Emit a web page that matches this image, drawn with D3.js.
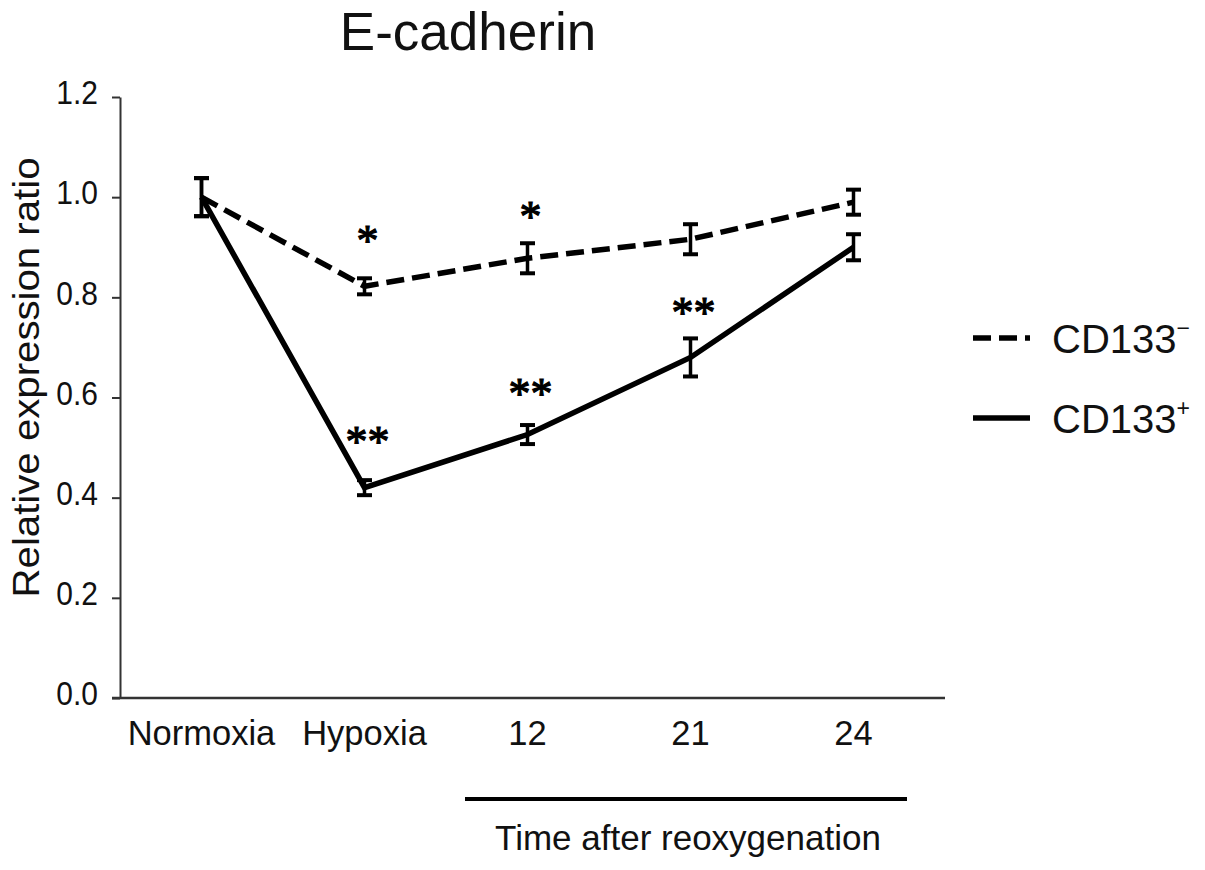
<!DOCTYPE html>
<html>
<head>
<meta charset="utf-8">
<script src="https://cdn.jsdelivr.net/npm/d3@7"></script>
<style>
  body { margin: 0; background: #fff; }
  svg { display: block; font-family: "Liberation Sans", Arial, sans-serif; }
</style>
</head>
<body>
<div id="chart"></div>
<script>
// values
const categories = ['Normoxia', 'Hypoxia', '12', '21', '24'];
const negMean = [1.0, 0.822, 0.878, 0.916, 0.99];   // CD133-
const negErr = [0.038, 0.016, 0.03, 0.03, 0.025];
const posMean = [1.0, 0.42, 0.526, 0.68, 0.9];      // CD133+
const posErr = [0.038, 0.015, 0.019, 0.038, 0.026];
const negStars = ['', '*', '*', '', ''];
const negStarLevel = [null, 0.924, 0.972, null, null];
const posStars = ['', '**', '**', '**', ''];
const posStarLevel = [null, 0.524, 0.618, 0.78, null];
const yTicks = [0, 0.2, 0.4, 0.6, 0.8, 1.0, 1.2];

const width = 1205, height = 870;

const svg = d3.select('#chart').append('svg')
  .attr('width', width)
  .attr('height', height);

// scales
const x = d3.scaleBand().domain(categories).range([120, 935]).padding(0);
const cx = d => x(d) + x.bandwidth() / 2;
const y = d3.scaleLinear().domain([0, 1.2]).range([698, 97]);

// title
svg.append('text')
  .attr('x', 468).attr('y', 50)
  .attr('text-anchor', 'middle')
  .attr('font-size', 53)
  .attr('fill', '#111')
  .text('E-cadherin');

// y axis
const yAxis = svg.append('g')
  .attr('transform', 'translate(120,0)')
  .call(d3.axisLeft(y).tickValues(yTicks).tickFormat(d3.format('.1f')).tickSize(8).tickSizeOuter(0).tickPadding(14));
yAxis.select('.domain').attr('stroke', '#333').attr('stroke-width', 2);
yAxis.selectAll('.tick line').attr('stroke', '#333').attr('stroke-width', 2);
yAxis.selectAll('.tick text')
  .attr('font-size', 30)
  .attr('font-family', '"Liberation Sans", Arial, sans-serif')
  .attr('fill', '#111')
  .attr('transform', 'scale(1,1.12)')
  .attr('dy', '0.2em');

// x axis (labels only, line drawn across)
const xAxis = svg.append('g')
  .attr('transform', 'translate(0,698)')
  .call(d3.axisBottom(x).tickSize(0).tickSizeOuter(0).tickPadding(23));
xAxis.select('.domain').remove();
xAxis.selectAll('.tick text')
  .attr('font-size', 34.5)
  .attr('font-family', '"Liberation Sans", Arial, sans-serif')
  .attr('fill', '#111');
svg.append('line')
  .attr('x1', 112).attr('x2', 945)
  .attr('y1', y(0)).attr('y2', y(0))
  .attr('stroke', '#333').attr('stroke-width', 2.5);

// y label
svg.append('text')
  .attr('transform', `translate(39,${y(0.64)}) rotate(-90)`)
  .attr('text-anchor', 'middle')
  .attr('font-size', 36)
  .attr('textLength', 440)
  .attr('lengthAdjust', 'spacingAndGlyphs')
  .attr('fill', '#111')
  .text('Relative expression ratio');

// "Time after reoxygenation" bracket
svg.append('line')
  .attr('x1', 465).attr('x2', 907)
  .attr('y1', 799).attr('y2', 799)
  .attr('stroke', '#000').attr('stroke-width', 4);
svg.append('text')
  .attr('x', 688).attr('y', 850)
  .attr('text-anchor', 'middle')
  .attr('font-size', 35)
  .attr('fill', '#111')
  .text('Time after reoxygenation');

const series = [
  { name: 'CD133', sup: '\u2212', mean: negMean, err: negErr, stars: negStars, level: negStarLevel, dash: '18,8' },
  { name: 'CD133', sup: '+', mean: posMean, err: posErr, stars: posStars, level: posStarLevel, dash: null }
];

const line = d3.line()
  .x((d, i) => cx(categories[i]))
  .y(d => y(d));

series.forEach(s => {
  svg.append('path')
    .datum(s.mean)
    .attr('d', line)
    .attr('fill', 'none')
    .attr('stroke', '#000')
    .attr('stroke-width', 5.5)
    .attr('stroke-dasharray', s.dash);

  // error bars
  const eb = svg.append('g').selectAll('g')
    .data(s.mean.map((m, i) => ({ c: categories[i], m, e: s.err[i] })))
    .enter().append('g');
  eb.append('line')
    .attr('x1', d => cx(d.c)).attr('x2', d => cx(d.c))
    .attr('y1', d => y(d.m - d.e)).attr('y2', d => y(d.m + d.e))
    .attr('stroke', '#000').attr('stroke-width', 3.5);
  eb.selectAll('.cap')
    .data(d => [d.m - d.e, d.m + d.e].map(v => ({ c: d.c, v })))
    .enter().append('line')
    .attr('x1', d => cx(d.c) - 7.5).attr('x2', d => cx(d.c) + 7.5)
    .attr('y1', d => y(d.v)).attr('y2', d => y(d.v))
    .attr('stroke', '#000').attr('stroke-width', 4);

  // significance marks
  svg.append('g').selectAll('text')
    .data(s.stars.map((t, i) => ({ t, c: categories[i], v: s.level[i] })).filter(d => d.t))
    .enter().append('text')
    .attr('x', d => cx(d.c) + 3)
    .attr('y', d => y(d.v) + 20)
    .attr('text-anchor', 'middle')
    .attr('font-family', '"Liberation Serif", "Times New Roman", serif')
    .attr('font-size', 44)
    .attr('stroke', '#000')
    .attr('stroke-width', 1.2)
    .text(d => d.t);
});

// legend
const legend = svg.append('g');
series.forEach((s, i) => {
  const ly = 338 + i * 80;
  legend.append('line')
    .attr('x1', 973).attr('x2', 1030)
    .attr('y1', ly).attr('y2', ly)
    .attr('stroke', '#000').attr('stroke-width', 5.5)
    .attr('stroke-dasharray', s.dash);
  const t = legend.append('text')
    .attr('x', 1052).attr('y', ly + 15)
    .attr('font-size', 40)
    .attr('fill', '#111')
    .text(s.name);
  t.append('tspan')
    .attr('dy', -17)
    .attr('font-size', 23)
    .text(s.sup);
});
</script>
</body>
</html>
